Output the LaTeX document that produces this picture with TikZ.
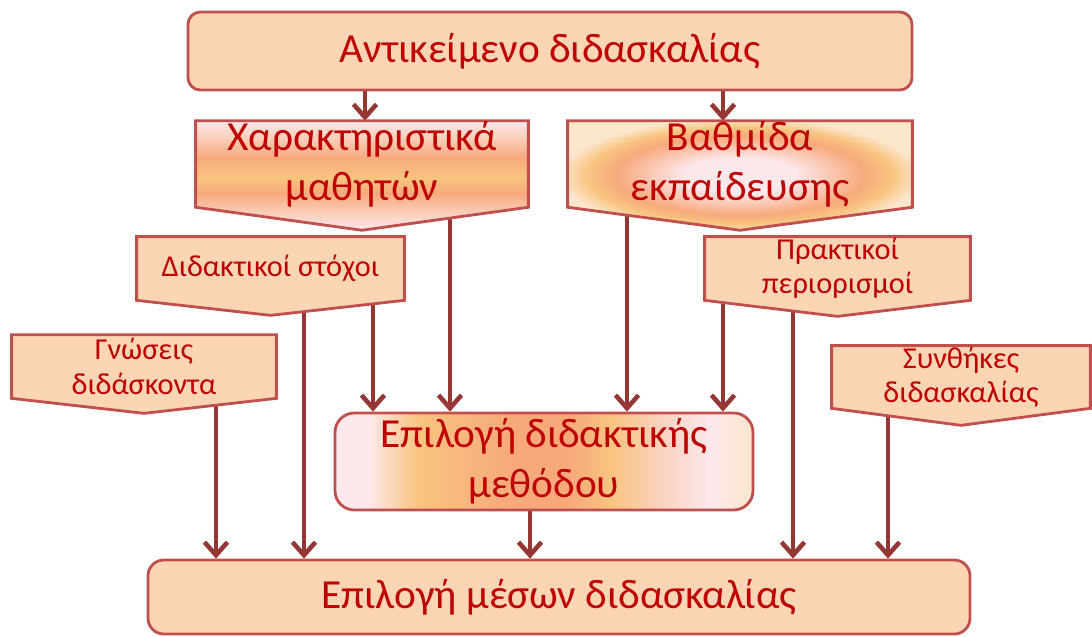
\documentclass[tikz,border=0pt]{standalone}
\usepackage{fontspec}
\setmainfont{Carlito}
\usetikzlibrary{arrows.meta}
\definecolor{peach}{HTML}{FCD5B5}
\definecolor{boxline}{HTML}{C0504D}
\definecolor{txtred}{HTML}{C00000}
\definecolor{arrowred}{HTML}{953735}
\definecolor{shpink}{HTML}{FDE8EC}
\definecolor{shlight}{HTML}{FAD2C0}
\definecolor{shorange}{HTML}{F7A97C}
\definecolor{shyellow}{HTML}{F8C47F}
\definecolor{shcream}{HTML}{FCE6CC}
% shadings
\pgfdeclareverticalshading{charshade}{100bp}{color(0bp)=(shpink); color(25bp)=(shpink); color(32bp)=(shlight); color(42bp)=(shorange); color(49bp)=(shyellow); color(58bp)=(shorange); color(68bp)=(shlight); color(75bp)=(shpink); color(100bp)=(shpink)}
\pgfdeclareradialshading{vathshade}{\pgfpoint{0bp}{0bp}}{color(0bp)=(shpink); color(8bp)=(shpink); color(18bp)=(shorange); color(22bp)=(shyellow); color(26bp)=(shcream); color(50bp)=(shcream)}
\pgfdeclarehorizontalshading{methshade}{100bp}{color(0bp)=(shpink); color(29bp)=(shpink); color(35bp)=(shyellow); color(46bp)=(shorange); color(53bp)=(shorange); color(58bp)=(shyellow); color(64bp)=(shlight); color(70bp)=(shpink); color(75bp)=(shcream); color(100bp)=(shcream)}
\pgfdeclarelayer{lines}
\pgfdeclarelayer{shapes}
\pgfsetlayers{lines,shapes,main}
\newcommand{\pentpath}[2]{(#1.north west) -- (#1.north east) -- (#1.south east) -- ([yshift=-#2]#1.south) -- (#1.south west) -- cycle}
\tikzset{
  rbox/.style={draw=boxline, line width=1.6pt, fill=peach, rounded corners=7pt, text=txtred, align=center, inner sep=0pt},
  pentxt/.style={text=txtred, align=center, inner sep=0pt},
  pent/.style={draw=boxline, line width=1.6pt},
  conn/.style={draw=arrowred, line width=2.6pt, -{Straight Barb[length=2.6mm,width=4.6mm]}},
  bigtxt/.style={font=\fontsize{23.5}{28.5}\selectfont},
  smalltxt/.style={font=\fontsize{17.3}{19.5}\selectfont},
}
\begin{document}
\begin{tikzpicture}
    \useasboundingbox (0,0) rectangle (21.84,-12.72);
    % Main boxes
    \node[rbox, bigtxt, minimum width=14.48cm, minimum height=1.56cm] (topic) at (11.0,-1.02) {Αντικείμενο διδασκαλίας};
    \node[rbox, bigtxt, minimum width=8.36cm, minimum height=1.94cm, rounded corners=11pt, shade, shading=methshade] (meth) at (10.88,-9.23) {Επιλογή διδακτικής\\μεθόδου};
    \node[rbox, bigtxt, minimum width=16.44cm, minimum height=1.48cm, rounded corners=9pt] (media) at (11.18,-11.94) {Επιλογή μέσων διδασκαλίας};

    % Factors
    \node[pentxt, bigtxt, minimum width=6.64cm, minimum height=1.7cm] (char) at (7.24,-3.28) {Χαρακτηριστικά\\μαθητών};
    \node[pentxt, bigtxt, minimum width=6.88cm, minimum height=1.7cm] (vath) at (14.8,-3.28) {Βαθμίδα\\εκπαίδευσης};
    \node[pentxt, smalltxt, minimum width=5.34cm, minimum height=1.26cm] (goals) at (5.41,-5.37) {Διδακτικοί στόχοι};
    \node[pentxt, smalltxt, minimum width=5.28cm, minimum height=1.26cm] (know) at (2.88,-7.33) {Γνώσεις\\διδάσκοντα};
    \node[pentxt, smalltxt, minimum width=5.3cm, minimum height=1.26cm] (limits) at (16.75,-5.37) {Πρακτικοί\\περιορισμοί};
    \node[pentxt, smalltxt, minimum width=5.16cm, minimum height=1.24cm] (cond) at (19.22,-7.54) {Συνθήκες\\διδασκαλίας};

    \begin{pgfonlayer}{shapes}
    \draw[pent, shade, shading=charshade] \pentpath{char}{0.46cm};
    \draw[pent, shade, shading=vathshade] \pentpath{vath}{0.46cm};
    \draw[pent, fill=peach] \pentpath{goals}{0.3cm};
    \draw[pent, fill=peach] \pentpath{know}{0.3cm};
    \draw[pent, fill=peach] \pentpath{limits}{0.32cm};
    \draw[pent, fill=peach] \pentpath{cond}{0.34cm};
    \end{pgfonlayer}

    % Arrows
    \begin{pgfonlayer}{lines}
    \draw[conn] (7.3,0 |- topic.south) -- (7.3,0 |- char.north);
    \draw[conn] (14.46,0 |- topic.south) -- (14.46,0 |- vath.north);
    \draw[conn] (9.0,0 |- char.south) -- (9.0,0 |- meth.north);
    \draw[conn] (12.54,0 |- vath.south) -- (12.54,0 |- meth.north);
    \draw[conn] (7.46,0 |- goals.south) -- (7.46,0 |- meth.north);
    \draw[conn] (6.08,0 |- goals.south) -- (6.08,0 |- media.north);
    \draw[conn] (14.46,0 |- limits.south) -- (14.46,0 |- meth.north);
    \draw[conn] (15.86,0 |- limits.south) -- (15.86,0 |- media.north);
    \draw[conn] (4.32,0 |- know.south) -- (4.32,0 |- media.north);
    \draw[conn] (17.76,0 |- cond.south) -- (17.76,0 |- media.north);
    \draw[conn] (10.6,0 |- meth.south) -- (10.6,0 |- media.north);
    \end{pgfonlayer}
\end{tikzpicture}
\end{document}
